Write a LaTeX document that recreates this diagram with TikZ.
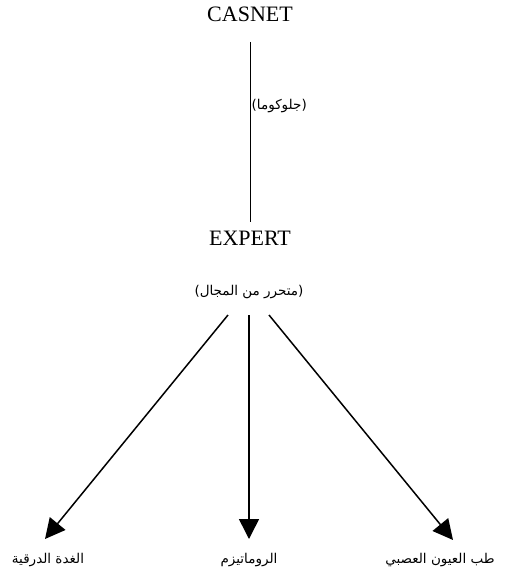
\documentclass[tikz,border=0pt]{standalone}
\usepackage{fontspec}
\setmainfont{Liberation Serif}
\newfontfamily\arabicfont[Script=Arabic]{DejaVu Sans}
\TeXXeTstate=1
\usetikzlibrary{arrows.meta}
\tikzset{
    sysNode/.style={inner sep=0pt, font=\fontsize{22}{26}\selectfont},
    arNode/.style={inner sep=0pt, font=\arabicfont\fontsize{13.5}{16}\selectfont},
    bigArrow/.style={-{Triangle[length=20pt, width=20pt]}, line width=1.5pt}
}

\begin{document}
\begin{tikzpicture}[x=1pt, y=1pt]
    \useasboundingbox (0,0) rectangle (512,-575);
    \node[sysNode] (casnet) at (250,-14) {CASNET};
    \node[sysNode] (expert) at (250,-238) {EXPERT};
    \draw[shorten <=28pt, shorten >=16pt] (casnet.center) -- (expert.center)
        node[arNode, right, pos=0.41, inner sep=1.5pt] (glaucoma) {\beginR(جلوكوما)\endR};
    \node[arNode] (free) at (249,-292) {\beginR(متحرر من المجال)\endR};
    % diagnosis domains
    \node[arNode] (thyroid) at (48,-560) {\beginR الغدة الدرقية\endR};
    \node[arNode] (rheum) at (249,-560) {\beginR الروماتيزم\endR};
    \node[arNode] (neuro) at (440,-560) {\beginR طب العيون العصبي\endR};
    \coordinate (s1) at (228,-315);  \coordinate (t1) at (45,-539);
    \coordinate (s2) at (249,-315);  \coordinate (t2) at (249,-539);
    \coordinate (s3) at (269,-315);  \coordinate (t3) at (453,-540);
    \foreach \i in {1,2,3}
        \draw[bigArrow] (s\i) -- (t\i);
\end{tikzpicture}
\end{document}
